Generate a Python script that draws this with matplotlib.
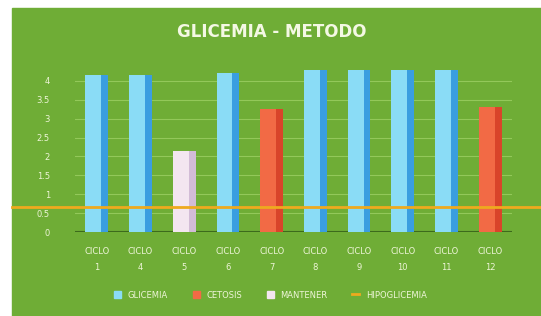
import matplotlib.pyplot as plt
from matplotlib.patches import Rectangle

# data
ciclos = ["1", "4", "5", "6", "7", "8", "9", "10", "11", "12"]
valores = [4.15, 4.15, 2.15, 4.2, 3.25, 4.3, 4.3, 4.3, 4.3, 3.3]
grupo = ["GLICEMIA", "GLICEMIA", "MANTENER", "GLICEMIA", "CETOSIS",
         "GLICEMIA", "GLICEMIA", "GLICEMIA", "GLICEMIA", "CETOSIS"]
umbral = 0.65
yticks = [0, 0.5, 1, 1.5, 2, 2.5, 3, 3.5, 4]
ytick_labels = ["0", "0.5", "1", "1.5", "2", "2.5", "3", "3.5", "4"]

colores = {
    "GLICEMIA": ("#8adcf6", "#3a9ee0"),
    "CETOSIS": ("#f26a45", "#d9442a"),
    "MANTENER": ("#f3e6f0", "#d2bcd6"),
}
texto = "#eef5d8"
verde = "#6fad36"

fig = plt.figure(figsize=(5.41, 3.16), dpi=100, facecolor="white")
fig.patches.append(Rectangle((12 / 541, 0), 1, 1 - 8 / 316,
                             transform=fig.transFigure, color=verde, zorder=-10))

ax = fig.add_axes([75 / 541, 1 - 232 / 316, 437 / 541, 170 / 316])
ax.set_facecolor("none")

w = 0.52
for i, (v, g) in enumerate(zip(valores, grupo)):
    claro, oscuro = colores[g]
    ax.bar(i, v, width=w, color=claro, zorder=3)
    ax.bar(i + w / 2, v, width=-w * 0.3, align="edge", color=oscuro, zorder=3)

ax.axhline(umbral, xmin=-0.144, xmax=1.07, color="#eeaa1e", lw=2.0,
           clip_on=False, zorder=4)

ax.set_xlim(-0.5, len(ciclos) - 0.5)
ax.set_ylim(0, 4.5)
ax.set_yticks(yticks)
ax.set_yticklabels(ytick_labels)
ax.set_xticks(range(len(ciclos)))
ax.set_xticklabels(["CICLO\n" + c for c in ciclos], linespacing=2.0)
ax.tick_params(axis="both", length=0, colors=texto, labelsize=6)
ax.tick_params(axis="y", pad=18)
ax.tick_params(axis="x", pad=11)
for s in ax.spines.values():
    s.set_visible(False)
ax.grid(axis="y", color="#93c85a", lw=0.8, zorder=1)
ax.axhline(0, color="#3c6a1c", lw=1.5, zorder=2)

fig.text(0.503, 1 - 32 / 316, "GLICEMIA - METODO", ha="center", va="center",
         color="#f4f8e4", fontsize=12, fontweight="bold")

handles = [Rectangle((0, 0), 1, 1, color=colores[k][0])
           for k in ["GLICEMIA", "CETOSIS", "MANTENER"]]
handles.append(plt.Line2D([0], [0], color="#eeaa1e", lw=2))
fig.legend(handles, ["GLICEMIA", "CETOSIS", "MANTENER", "HIPOGLICEMIA"],
           loc="center", bbox_to_anchor=(0.5, 1 - 295 / 316), ncol=4,
           frameon=False, fontsize=6, labelcolor=texto,
           handlelength=0.8, handleheight=0.8, columnspacing=3.0)

fig.savefig("out.png", dpi=100, facecolor=fig.get_facecolor())
